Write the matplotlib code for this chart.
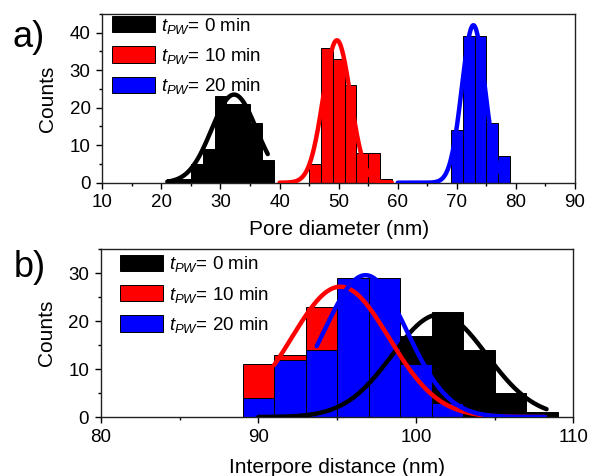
import numpy as np
import matplotlib
matplotlib.use("Agg")
import matplotlib.pyplot as plt
from matplotlib.ticker import MultipleLocator

plt.rcParams['font.family'] = ['Liberation Sans', 'DejaVu Sans']
plt.rcParams['mathtext.fontset'] = 'custom'
plt.rcParams['mathtext.rm'] = 'Liberation Sans'
plt.rcParams['mathtext.it'] = 'Liberation Sans:italic'

# histogram bins are 2 nm wide, left edges listed
# pore diameter
pd_black_edges = [21, 23, 25, 27, 29, 31, 33, 35, 37]
pd_black_counts = [1, 1, 5, 9, 23, 21, 21, 16, 6]
pd_red_edges = [45, 47, 49, 51, 53, 55, 57]
pd_red_counts = [5, 36, 33, 26, 8, 8, 1]
pd_blue_edges = [69, 71, 73, 75, 77]
pd_blue_counts = [14, 39, 39, 16, 7]

# interpore distance
ip_black_edges = [95, 97, 99, 101, 103, 105, 107]
ip_black_counts = [1, 6, 17, 22, 14, 5, 1]
ip_red_edges = [89, 91, 93, 95, 97, 99, 101]
ip_red_counts = [11, 13, 23, 27, 20, 8, 3]
ip_blue_edges = [89, 91, 93, 95, 97, 99, 101]
ip_blue_counts = [4, 12, 14, 29, 29, 11, 3]

# gaussian fits: (centre, sigma, amplitude, x start, x end)
pd_fits = [(32.3, 3.8, 23.5, 21, 38),
           (49.7, 2.3, 38.0, 40, 59),
           (72.8, 1.95, 42.0, 60, 78)]
ip_fits = [(101.5, 3.0, 21.4, 90, 108.3),
           (95.2, 3.1, 27.2, 91, 108.2),
           (96.8, 2.63, 29.6, 93.7, 108.2)]

colors = ['black', '#ff0000', '#0000ff']
labels = ['$t_{PW}$= 0 min', '$t_{PW}$= 10 min', '$t_{PW}$= 20 min']


def gauss(x, xc, s, a):
    return a * np.exp(-(x - xc) ** 2 / (2 * s ** 2))


def panel(ax, edges, counts, fits, xlim, ylim, xlabel, xpad, legpos):
    handles = []
    for e, c, col, lab in zip(edges, counts, colors, labels):
        b = ax.bar(e, c, width=2, align='edge', color=col, edgecolor='black',
                   linewidth=0.7, label=lab, zorder=2)
        handles.append(b)
    for (xc, s, a, x0, x1), col in zip(fits, colors):
        xx = np.linspace(x0, x1, 300)
        ax.plot(xx, gauss(xx, xc, s, a), color=col, lw=3.2, zorder=3,
                solid_capstyle='round')
    ax.set_xlim(*xlim)
    ax.set_ylim(*ylim)
    ax.set_xlabel(xlabel, fontsize=15, labelpad=xpad)
    ax.set_ylabel('Counts', fontsize=15, labelpad=9)
    ax.xaxis.set_major_locator(MultipleLocator(10))
    ax.yaxis.set_major_locator(MultipleLocator(10))
    ax.yaxis.set_minor_locator(MultipleLocator(5))
    ax.xaxis.set_minor_locator(MultipleLocator(5))
    ax.tick_params(which='both', direction='out', labelsize=13.5, width=1,
                   top=False, right=False)
    ax.tick_params(which='major', length=4.5, pad=4)
    ax.tick_params(which='minor', length=2.5)
    for sp in ax.spines.values():
        sp.set_linewidth(1)
        sp.set_color('#222222')
    ax.legend(handles=handles, loc='upper left', bbox_to_anchor=legpos,
              frameon=False, fontsize=13.5, handlelength=2.3, handleheight=0.95,
              handletextpad=0.3, labelspacing=0.55, borderpad=0, borderaxespad=0)


fig = plt.figure(figsize=(5.9, 4.76), dpi=100)
ax1 = fig.add_axes([0.1734, 0.6162, 0.8012, 0.3544])
ax2 = fig.add_axes([0.1712, 0.1239, 0.8005, 0.3523])

panel(ax1, [pd_black_edges, pd_red_edges, pd_blue_edges],
      [pd_black_counts, pd_red_counts, pd_blue_counts], pd_fits,
      (10, 90), (0, 45), 'Pore diameter (nm)', 6, (0.02, 0.99))

panel(ax2, [ip_black_edges, ip_red_edges, ip_blue_edges],
      [ip_black_counts, ip_red_counts, ip_blue_counts], ip_fits,
      (80, 110), (0, 35), 'Interpore distance (nm)', 9, (0.04, 0.97))

fig.text(0.022, 0.922, 'a)', fontsize=26, ha='left', va='center')
fig.text(0.024, 0.437, 'b)', fontsize=26, ha='left', va='center')

fig.savefig('out.png', dpi=100)
